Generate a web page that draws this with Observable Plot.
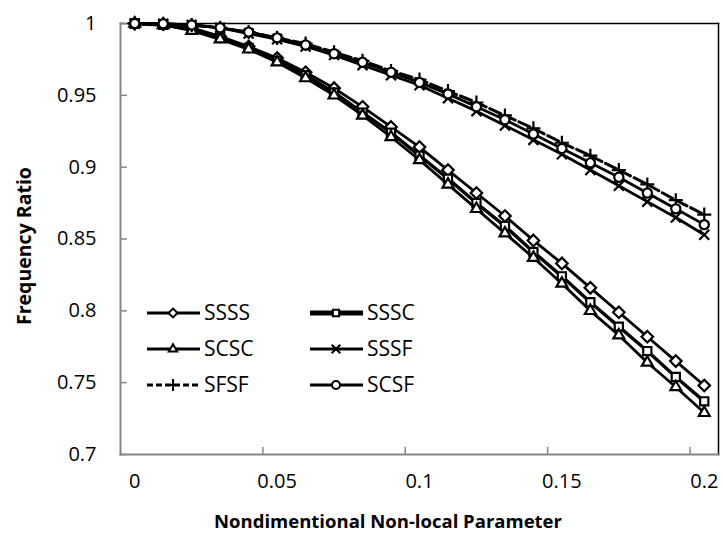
<!DOCTYPE html>
<html><head><meta charset="utf-8">
<script src="https://cdn.jsdelivr.net/npm/d3@7"></script>
<script src="https://cdn.jsdelivr.net/npm/@observablehq/plot@0.6"></script>
<style>
body{margin:0;background:#fff;}
#wrap{position:relative;width:724px;height:535px;font-family:"Open Sans",sans-serif;color:#000;}
#wrap svg.plot{position:absolute;left:0;top:0;}
.ttl{position:absolute;font-weight:bold;font-size:18.5px;white-space:nowrap;}
#xt{left:388px;top:520px;transform:translate(-50%,-50%);}
#yt{left:23px;top:246px;font-size:19.5px;transform:translate(-50%,-50%) rotate(-90deg);}
#legend{position:absolute;left:0;top:0;}
</style></head><body><div id="wrap"></div>
<script>
const xValues = [0,0.01,0.02,0.03,0.04,0.05,0.06,0.07,0.08,0.09,0.1,0.11,0.12,0.13,0.14,0.15,0.16,0.17,0.18,0.19,0.2];
const SSSS = [1,0.9995,0.997,0.991,0.984,0.976,0.966,0.955,0.942,0.928,0.914,0.898,0.882,0.866,0.849,0.833,0.816,0.799,0.782,0.765,0.748];
const SSSC = [1,0.999,0.996,0.990,0.983,0.974,0.964,0.952,0.938,0.924,0.908,0.892,0.875,0.859,0.841,0.824,0.806,0.789,0.772,0.754,0.737];
const SCSC = [1,0.999,0.995,0.989,0.982,0.973,0.962,0.950,0.936,0.921,0.905,0.888,0.871,0.854,0.837,0.819,0.800,0.783,0.764,0.747,0.729];
const SSSF = [1,0.9998,0.999,0.997,0.993,0.989,0.984,0.978,0.971,0.964,0.957,0.948,0.939,0.929,0.919,0.909,0.898,0.887,0.876,0.865,0.853];
const SFSF = [1,0.9998,0.999,0.997,0.994,0.990,0.986,0.980,0.974,0.967,0.961,0.953,0.945,0.936,0.927,0.917,0.908,0.898,0.888,0.877,0.867];
const SCSF = [1,0.9998,0.999,0.997,0.994,0.990,0.985,0.979,0.973,0.966,0.959,0.951,0.942,0.933,0.923,0.913,0.903,0.893,0.882,0.871,0.860];
const seriesNames = ["SSSS","SSSC","SCSC","SSSF","SFSF","SCSF"];
const seriesValues = [SSSS,SSSC,SCSC,SSSF,SFSF,SCSF];
const xLabelTicks = [0,0.05,0.1,0.15,0.2];
const xMarkTicks = [0.045,0.095,0.145,0.195];
const yTicks = [0.7,0.75,0.8,0.85,0.9,0.95,1];
const xDomain = [-0.005,0.205];
const yDomain = [0.7,1];

const styles = {
  SSSS:{symbol:"diamond2", r:5.2, width:2.8, dash:null},
  SSSC:{symbol:"square2", r:5.2, width:3.4, dash:null},
  SCSC:{symbol:"triangle2", r:5.2, width:2.8, dash:null},
  SSSF:{symbol:"times", r:4.6, width:2.8, dash:null},
  SFSF:{symbol:"plus", r:4.6, width:3, dash:"12,4"},
  SCSF:{symbol:"circle", r:4.6, width:2.8, dash:null}
};

const marks = [];
seriesNames.forEach((name,i)=>{
  const data = xValues.map((x,j)=>({x, y: seriesValues[i][j], s:name}));
  const st = styles[name];
  marks.push(Plot.line(data,{x:"x",y:"y",stroke:"#000",strokeWidth:st.width,strokeDasharray:st.dash}));
  marks.push(Plot.dot(data,{x:"x",y:"y",symbol:()=>st.symbol,r:st.r,fill:"#fff",stroke:"#000",strokeWidth:2.2}));
});

const fmt = d => String(+d.toFixed(2));
const chart = Plot.plot({
  width:724, height:535,
  marginLeft:120, marginRight:6, marginTop:23, marginBottom:81,
  style:{fontFamily:"'Open Sans',sans-serif", fontSize:"20px", color:"#000", background:"#fff"},
  x:{domain:xDomain},
  y:{domain:yDomain},
  symbol:{type:"identity"},
  marks:[
    Plot.frame({anchor:"top", stroke:"#000", strokeWidth:1.5}),
    Plot.frame({anchor:"right", stroke:"#000", strokeWidth:1.5}),
    Plot.axisY(yTicks,{tickSize:-7, tickPadding:31, stroke:"#868686", strokeWidth:1.5, tickFormat:fmt, fill:"#000", fontSize:20, label:null}),
    Plot.axisX(xLabelTicks,{tickSize:0, tickPadding:19, tickFormat:fmt, fill:"#000", fontSize:20, label:null}),
    Plot.axisX(xMarkTicks,{tickSize:-7, tickFormat:()=> "", stroke:"#868686", strokeWidth:1.5, label:null}),
    Plot.frame({anchor:"left", stroke:"#868686", strokeWidth:2}),
    Plot.frame({anchor:"bottom", stroke:"#868686", strokeWidth:2}),
    ...marks
  ]
});
chart.classList.add("plot");
const wrap = document.getElementById("wrap");
wrap.appendChild(chart);

const xt = document.createElement("div"); xt.className="ttl"; xt.id="xt"; xt.textContent="Nondimentional Non-local Parameter"; wrap.appendChild(xt);
const yt = document.createElement("div"); yt.className="ttl"; yt.id="yt"; yt.textContent="Frequency Ratio"; wrap.appendChild(yt);

// legend
const legendLayout = [
  ["SSSS",147,313],["SSSC",310,313],
  ["SCSC",147,349],["SSSF",310,349],
  ["SFSF",147,385],["SCSF",310,385]
];
const lg = d3.select(wrap).append("svg").attr("id","legend").attr("width",724).attr("height",535);
const symMap = {diamond2:d3.symbolDiamond2, square2:d3.symbolSquare2, triangle2:d3.symbolTriangle2, times:d3.symbolTimes, plus:d3.symbolPlus, circle:d3.symbolCircle};
legendLayout.forEach(([name,x0,y0])=>{
  const st = styles[name];
  const g = lg.append("g");
  g.append("line").attr("x1",x0).attr("x2",x0+53).attr("y1",y0).attr("y2",y0)
    .attr("stroke","#000").attr("stroke-width", name==="SSSC"?5:st.width)
    .attr("stroke-dasharray", st.dash ? "6,3" : null);
  g.append("path").attr("transform",`translate(${x0+26},${y0})`)
    .attr("d", d3.symbol(symMap[st.symbol], Math.PI*16)())
    .attr("fill","#fff").attr("stroke","#000").attr("stroke-width",2);
  g.append("text").attr("x",x0+57).attr("y",y0).attr("dy","0.35em")
    .attr("font-family","'Open Sans',sans-serif").attr("font-size",21).text(name);
});
</script></body></html>
